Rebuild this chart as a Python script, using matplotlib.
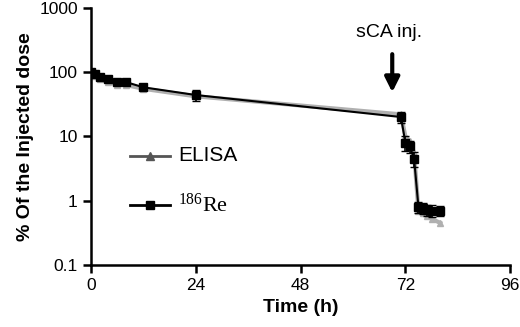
import numpy as np
import matplotlib.pyplot as plt

# time points (h)
t_re = [0, 1, 2, 4, 6, 8, 12, 24, 71, 72, 73, 74, 75, 76, 77, 78, 80]
re186 = [100, 95, 85, 78, 70, 70, 58, 44, 20, 8.0, 7.0, 4.5, 0.8, 0.78, 0.72, 0.7, 0.7]
re_err = [8, 6, 6, 5, 5, 5, 6, 8, 4, 2.0, 1.5, 1.2, 0.15, 0.15, 0.15, 0.15, 0.12]

t_el = [0, 1, 2, 4, 6, 8, 12, 24, 71, 72, 73, 74, 75, 76, 77, 78, 80]
elisa = [95, 88, 78, 70, 64, 63, 55, 42, 22, 10, 8.5, 5.5, 0.7, 0.65, 0.58, 0.52, 0.45]

plt.rcParams['font.family'] = 'Liberation Sans'
plt.rcParams['mathtext.fontset'] = 'custom'
plt.rcParams['mathtext.rm'] = 'Liberation Serif'

fig = plt.figure(figsize=(5.2, 3.27), dpi=100)
ax = fig.add_axes([0.175, 0.19, 0.806, 0.786])

ax.plot(t_el, elisa, color='#b0b0b0', lw=3, marker='^', ms=5, zorder=1)
ax.errorbar(t_re, re186, yerr=re_err, color='black', lw=1.5, marker='s', ms=6,
            capsize=3, elinewidth=1.2, zorder=2)

ax.set_yscale('log')
ax.set_ylim(0.1, 1000)
ax.set_xlim(0, 96)
ax.set_xticks([0, 24, 48, 72, 96])
ax.set_yticks([0.1, 1, 10, 100, 1000])
ax.set_yticklabels(['0.1', '1', '10', '100', '1000'])
ax.minorticks_off()
ax.spines['top'].set_visible(False)
ax.spines['right'].set_visible(False)
ax.spines['left'].set_linewidth(1.8)
ax.spines['bottom'].set_linewidth(1.8)
ax.tick_params(width=1.8, length=6, labelsize=12.5)

ax.set_xlabel('Time (h)', fontsize=14, fontweight='bold', labelpad=4)
ax.set_ylabel('% Of the Injected dose', fontsize=14, fontweight='bold', labelpad=4)

# annotation
ax.annotate('', xy=(69, 44), xytext=(69, 210),
            arrowprops=dict(arrowstyle='-|>', color='black', lw=3, mutation_scale=22))
ax.text(68.2, 356, 'sCA inj.', ha='center', va='baseline', fontsize=14)

# legend drawn manually
lx = [9, 18]
ax.plot(lx, [5.0, 5.0], color='#555555', lw=2)
ax.plot([13.5], [5.0], marker='^', color='#555555', ms=6)
ax.text(20, 5.0, 'ELISA', va='center', fontsize=15)
ax.plot(lx, [0.85, 0.85], color='black', lw=2)
ax.plot([13.5], [0.85], marker='s', color='black', ms=6)
ax.text(20, 0.85, r'$\mathrm{^{186}Re}$', va='center', fontsize=16)

fig.savefig('out.png', dpi=100)
